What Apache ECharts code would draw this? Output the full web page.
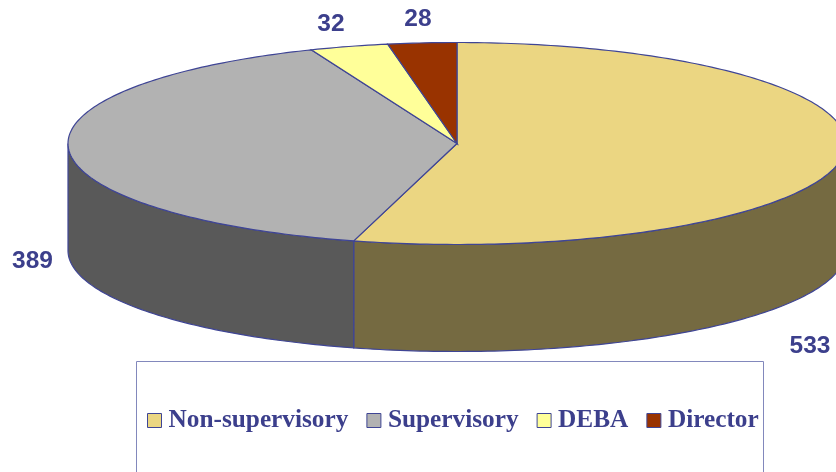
<!DOCTYPE html>
<html>
<head>
<meta charset="utf-8">
<style>html,body{margin:0;padding:0;background:#fff;overflow:hidden}#c{width:836px;height:472px}</style>
<script src="https://cdn.jsdelivr.net/npm/echarts@6/dist/echarts.min.js"></script>
</head>
<body>
<div id="c"></div>
<script>
var categories = ['Non-supervisory', 'Supervisory', 'DEBA', 'Director'];
var values = [533, 389, 32, 28];
var topColors = ['#EBD682', '#B2B2B2', '#FFFF99', '#993300'];
var sideColors = ['#756A41', '#595959', '#7F7F4C', '#4C1900'];
var labelCenters = [[810, 346], [32.5, 261], [331, 24], [418, 19]];

var CX = 457, CY = 143.5, RX = 389, RY = 101, DEPTH = 107;
var EDGE = '#3F4595', INK = '#3C3F8C';
var total = values.reduce(function (a, b) { return a + b; }, 0);

function pt(deg, dy) {
  var r = deg * Math.PI / 180;
  return [CX + RX * Math.sin(r), CY - RY * Math.cos(r) + (dy || 0)];
}
function arc(from, to, dy) {
  var out = [], n = Math.max(2, Math.ceil(Math.abs(to - from)));
  for (var i = 0; i <= n; i++) out.push(pt(from + (to - from) * i / n, dy));
  return out;
}
function renderSlice(params, api) {
  var idx = params.seriesIndex;
  var a0 = api.value(0) / total * 360;
  var a1 = (api.value(0) + api.value(1)) / total * 360;
  var children = [];
  var s0 = Math.max(a0, 90), s1 = Math.min(a1, 270);
  if (s1 > s0) {
    children.push({
      type: 'polygon',
      shape: { points: arc(s0, s1, 0).concat(arc(s1, s0, DEPTH)) },
      style: { fill: sideColors[idx], stroke: EDGE, lineWidth: 1.2 }
    });
  }
  children.push({
    type: 'polygon',
    shape: { points: [[CX, CY]].concat(arc(a0, a1, 0)) },
    style: { fill: topColors[idx], stroke: EDGE, lineWidth: 1.2 }
  });
  children.push({
    type: 'text',
    style: {
      x: labelCenters[idx][0], y: labelCenters[idx][1],
      text: String(api.value(1)),
      align: 'center', verticalAlign: 'middle',
      fill: INK, font: 'bold 24.5px "Liberation Sans", Arial, sans-serif'
    }
  });
  return { type: 'group', children: children };
}

var running = 0;
var series = categories.map(function (name, i) {
  var row = [running, values[i]];
  running += values[i];
  return {
    type: 'custom',
    name: name,
    coordinateSystem: 'none',
    renderItem: renderSlice,
    data: [row],
    itemStyle: { color: topColors[i], borderColor: EDGE, borderWidth: 1 },
    animation: false,
    silent: true
  };
});

var chart = echarts.init(document.getElementById('c'), null, { renderer: 'canvas' });
chart.setOption({
  backgroundColor: '#fff',
  animation: false,
  graphic: [{
    type: 'rect', z: 0, silent: true,
    shape: { x: 136.5, y: 361.5, width: 627, height: 140 },
    style: { fill: '#fff', stroke: '#8288BC', lineWidth: 1 }
  }],
  legend: {
    left: 147, top: 408,
    padding: 0,
    orient: 'horizontal',
    icon: 'rect',
    itemWidth: 14, itemHeight: 14, itemGap: 18,
    selectedMode: false,
    textStyle: {
      color: INK, fontFamily: '"Liberation Serif", "Times New Roman", serif',
      fontWeight: 'bold', fontSize: 25.3, padding: [0, 0, 0, 2]
    },
    data: categories.map(function (n, i) {
      return { name: n, itemStyle: { color: topColors[i], borderColor: EDGE, borderWidth: 1 } };
    })
  },
  series: series
});
</script>
</body>
</html>
